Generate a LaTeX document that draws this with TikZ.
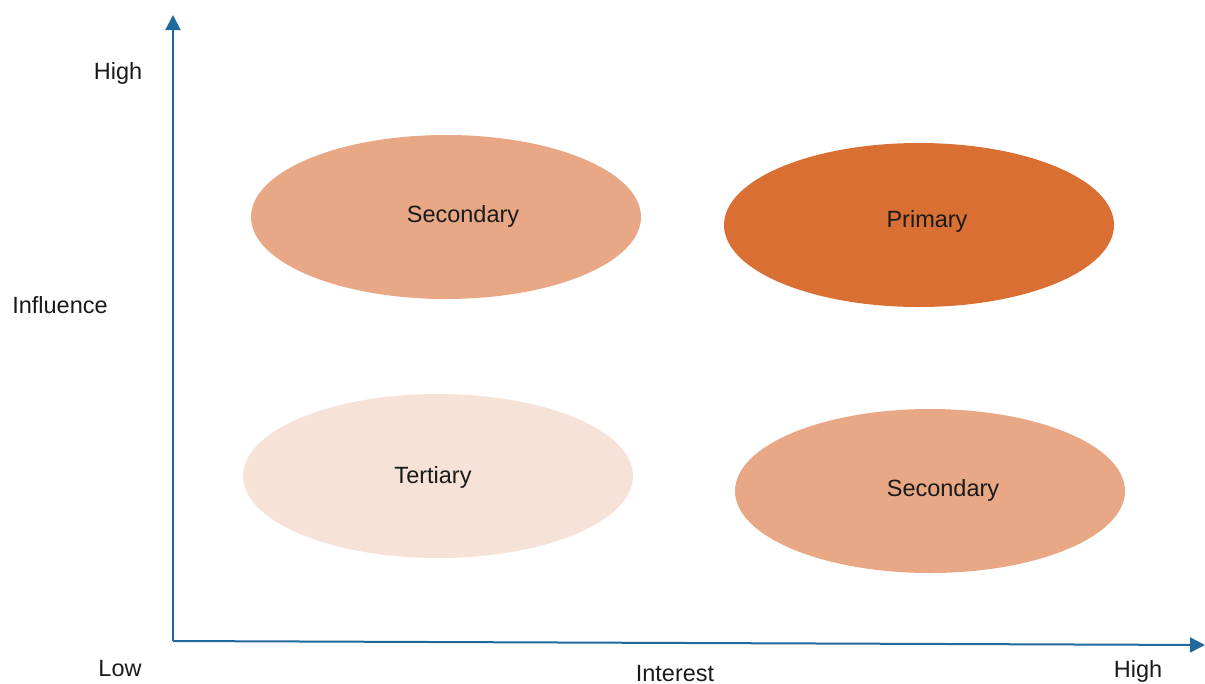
\documentclass[tikz,border=0pt]{standalone}
\usepackage{fontspec}
\setmainfont{Liberation Sans}
\usetikzlibrary{shapes.geometric,arrows.meta}
\definecolor{axisblue}{HTML}{1F6A9A}
\definecolor{primaryfill}{HTML}{DA6F33}
\definecolor{secondaryfill}{HTML}{E8A886}
\definecolor{tertiaryfill}{HTML}{F6E2D6}
\definecolor{labeltext}{HTML}{1A1A1A}
\begin{document}
\begin{tikzpicture}[x=1pt,y=-1pt,
  group/.style={ellipse,draw=none,minimum width=390pt,minimum height=164pt,inner sep=0pt},
  grouptext/.style={font=\fontsize{23.5}{28}\selectfont,text=labeltext,inner sep=0pt},
  axislabel/.style={font=\fontsize{23.5}{28}\selectfont,text=labeltext,inner sep=0pt},
  axisline/.style={draw=axisblue,line width=2pt,-{Triangle[length=15pt,width=15pt]}}]
\useasboundingbox (0,0) rectangle (1205,683);

% stakeholder groups
\node[group,fill=secondaryfill] (influential) at (446,217) {};
\node[group,fill=primaryfill]   (primary)     at (919,225) {};
\node[group,fill=tertiaryfill]  (tertiary)    at (438,476) {};
\node[group,fill=secondaryfill] (interested)  at (930,491) {};

\node[grouptext] (tinfluential) at (463,216) {Secondary};
\node[grouptext] (tprimary)     at (927,221) {Primary};
\node[grouptext] (ttertiary)    at (433,477) {Tertiary};
\node[grouptext] (tinterested)  at (943,490) {Secondary};

% axes
\coordinate (origin) at (173,641);
\coordinate (ytip) at (173,15);
\coordinate (xtip) at (1205,645);
\draw[axisline] (origin) -- (ytip);
\draw[axisline] (origin) -- (xtip);

% axis labels
\node[axislabel] (yhigh)     at (118,73)  {High};
\node[axislabel] (yname)     at (60,305)  {Influence};
\node[axislabel] (low)       at (120,669) {Low};
\node[axislabel] (xname)     at (675,674) {Interest};
\node[axislabel] (xhigh)     at (1138,671) {High};
\end{tikzpicture}
\end{document}
